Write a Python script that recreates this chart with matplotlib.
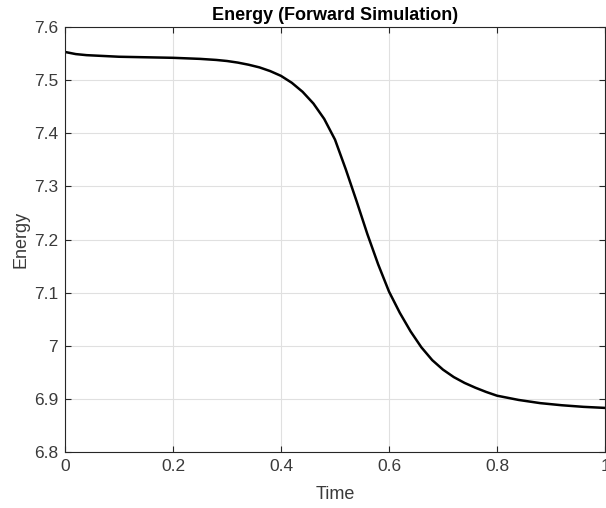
import matplotlib
matplotlib.use("Agg")
import matplotlib.pyplot as plt

time = [0, 0.01, 0.02, 0.04, 0.06, 0.08, 0.1, 0.15, 0.2, 0.25, 0.28, 0.3,
        0.32, 0.34, 0.36, 0.38, 0.4, 0.42, 0.44, 0.46, 0.48, 0.5, 0.52, 0.54,
        0.56, 0.58, 0.6, 0.62, 0.64, 0.66, 0.68, 0.7, 0.72, 0.74, 0.76, 0.78,
        0.8, 0.84, 0.88, 0.92, 0.96, 1.0]
energy = [7.553, 7.551, 7.549, 7.547, 7.546, 7.545, 7.544, 7.543, 7.542, 7.540,
          7.538, 7.536, 7.533, 7.529, 7.524, 7.517, 7.508, 7.495, 7.478, 7.456,
          7.427, 7.388, 7.332, 7.272, 7.21, 7.153, 7.102, 7.062, 7.027, 6.997,
          6.973, 6.955, 6.941, 6.930, 6.921, 6.913, 6.906, 6.898, 6.892, 6.888,
          6.885, 6.883]
xticks = [0, 0.2, 0.4, 0.6, 0.8, 1]
xticklabels = ["0", "0.2", "0.4", "0.6", "0.8", "1"]
yticks = [6.8, 6.9, 7.0, 7.1, 7.2, 7.3, 7.4, 7.5, 7.6]
yticklabels = ["6.8", "6.9", "7", "7.1", "7.2", "7.3", "7.4", "7.5", "7.6"]

plt.rcParams['font.family'] = ['Liberation Sans', 'DejaVu Sans']

fig = plt.figure(figsize=(6.06, 5.08), dpi=100)
ax = fig.add_axes([65/606, 1 - 452/508, 540/606, 425/508])
ax.plot(time, energy, color='black', linewidth=1.8, solid_joinstyle='round')
ax.set_xlim(0, 1)
ax.set_ylim(6.8, 7.6)
ax.set_xticks(xticks)
ax.set_xticklabels(xticklabels)
ax.set_yticks(yticks)
ax.set_yticklabels(yticklabels)
ax.grid(True, color='#e0e0e0', linewidth=0.8)
ax.set_axisbelow(True)
ax.tick_params(direction='in', top=True, right=True, length=4, width=0.8,
               colors='#262626', labelsize=12.5, labelcolor='#3a3a3a', pad=5)
for s in ax.spines.values():
    s.set_color('#262626')
    s.set_linewidth(0.8)
ax.set_xlabel('Time', fontsize=13, color='#3a3a3a', labelpad=9)
ax.set_ylabel('Energy', fontsize=13, color='#3a3a3a', labelpad=3)
ax.set_title('Energy (Forward Simulation)', fontsize=13, fontweight='bold', pad=5)
fig.savefig('out.png', dpi=100)
